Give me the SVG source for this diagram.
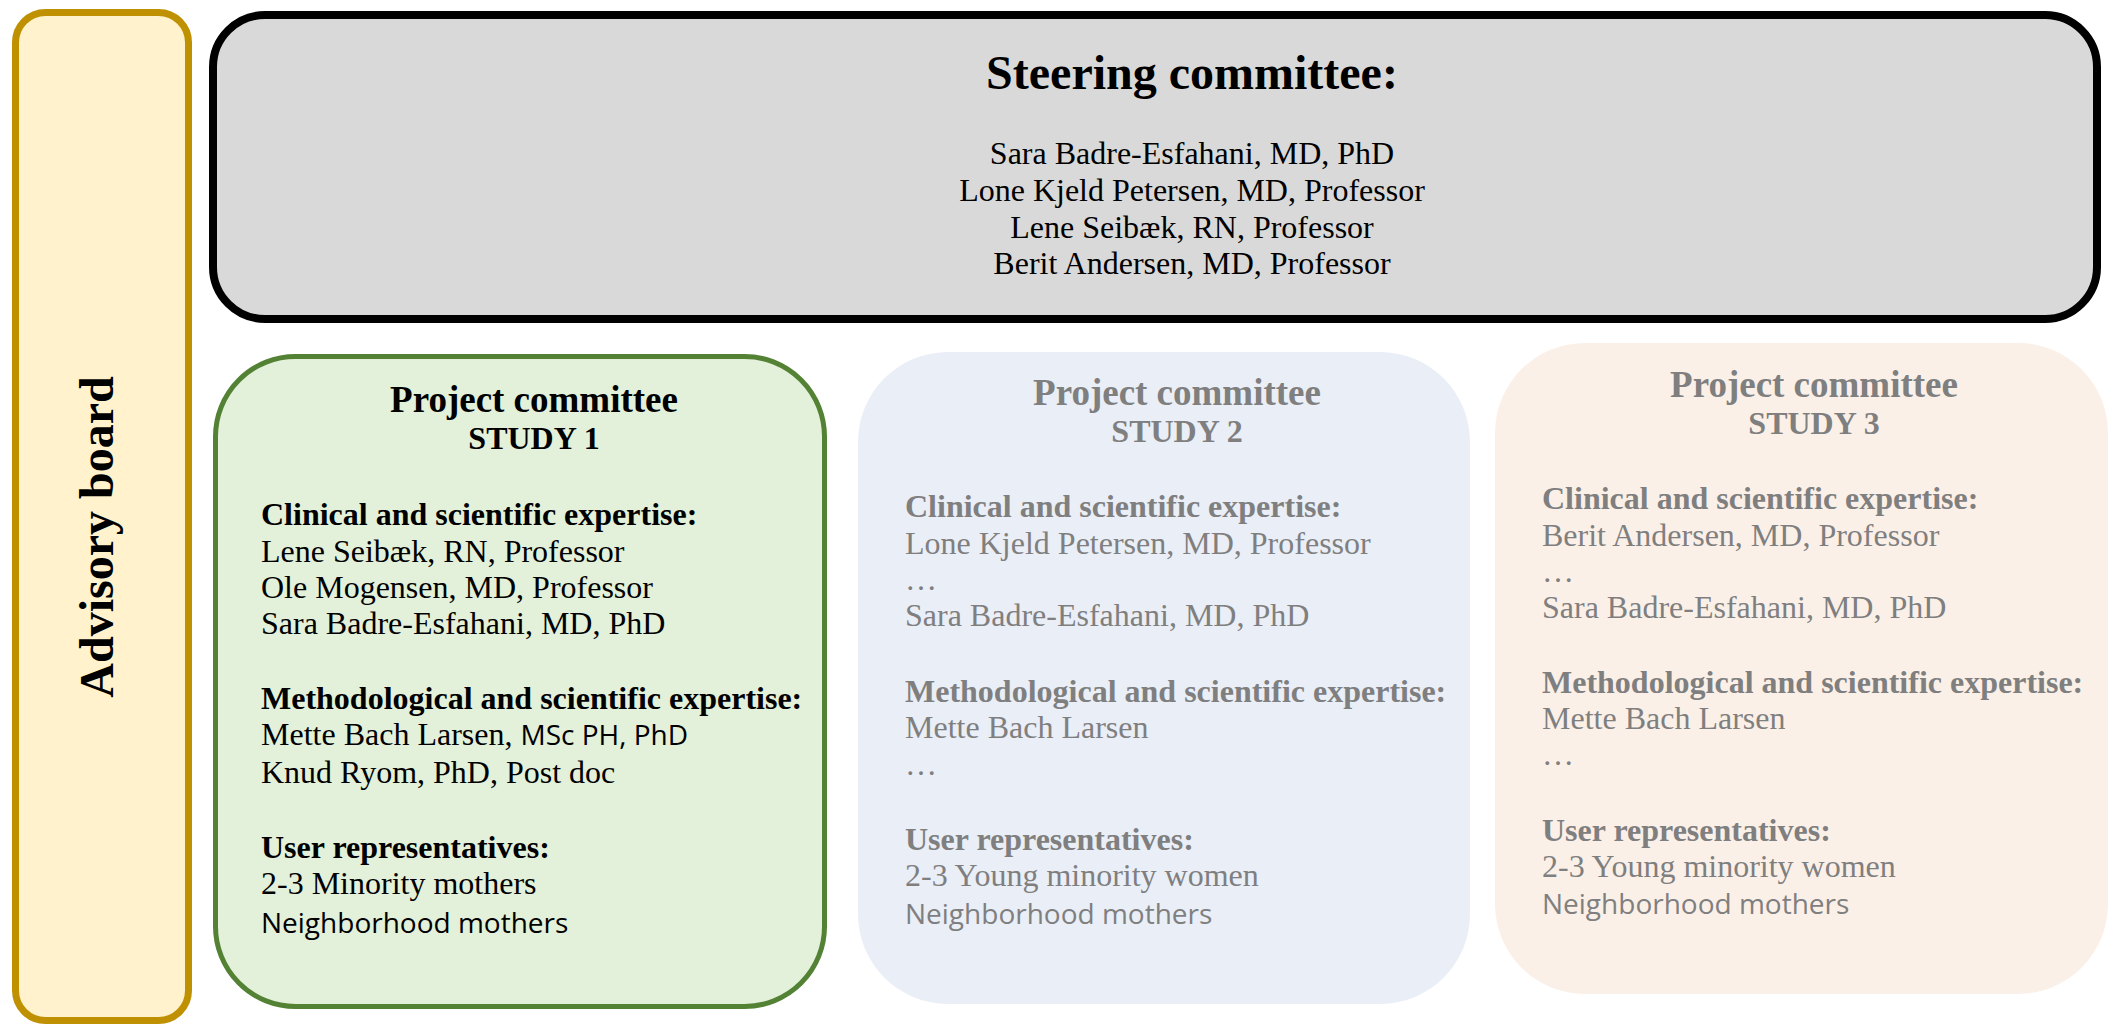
<svg xmlns="http://www.w3.org/2000/svg" width="2112" height="1026" viewBox="0 0 2112 1026">
<style>
.serif{font-family:"Liberation Serif","Times New Roman",serif;}
.sans{font-family:"Open Sans","Noto Sans","Liberation Sans",sans-serif;}
.b{font-weight:bold;}
.body{font-size:32px;}
.title{font-size:37px;font-weight:bold;text-anchor:middle;}
.sub{font-size:32px;font-weight:bold;text-anchor:middle;}
.dark{fill:#000;}
.grey{fill:#7f7f7f;}
.calibri{font-family:"Open Sans","Noto Sans","Liberation Sans",sans-serif;font-size:28px;}
</style>
<rect width="2112" height="1026" fill="#ffffff"/>
<g id="advisory-board">
  <rect x="15.5" y="12.5" width="173" height="1008" rx="30" ry="30" fill="#FFF2CC" stroke="#BF9000" stroke-width="7"/>
  <text class="serif b" font-size="48" text-anchor="middle" transform="translate(113,537) rotate(-90)">Advisory board</text>
</g>
<g id="steering-committee">
  <rect x="213" y="15" width="1884" height="304" rx="52" ry="52" fill="#D9D9D9" stroke="#000" stroke-width="8"/>
  <text class="serif b dark" font-size="48" x="1192" y="89" text-anchor="middle">Steering committee:</text>
  <g class="serif body dark" text-anchor="middle">
    <text x="1192" y="164">Sara Badre-Esfahani, MD, PhD</text>
    <text x="1192" y="201">Lone Kjeld Petersen, MD, Professor</text>
    <text x="1192" y="238">Lene Seibæk, RN, Professor</text>
    <text x="1192" y="274">Berit Andersen, MD, Professor</text>
  </g>
</g>
<g id="study-1">
  <rect x="215.5" y="356.5" width="609" height="650" rx="80" ry="80" fill="#E3F0DA" stroke="#548235" stroke-width="5"/>
  <text class="serif title dark" x="534" y="412">Project committee</text>
  <text class="serif sub dark" x="534" y="449">STUDY 1</text>
  <g class="serif body dark">
    <text class="b" x="261" y="525">Clinical and scientific expertise:</text>
    <text x="261" y="562">Lene Seibæk, RN, Professor</text>
    <text x="261" y="598">Ole Mogensen, MD, Professor</text>
    <text x="261" y="634">Sara Badre-Esfahani, MD, PhD</text>
    <text class="b" x="261" y="709">Methodological and scientific expertise:</text>
    <text x="261" y="745">Mette Bach Larsen, <tspan class="calibri">MSc PH, PhD</tspan></text>
    <text x="261" y="783">Knud Ryom, PhD, Post doc</text>
    <text class="b" x="261" y="858">User representatives:</text>
    <text x="261" y="894">2-3 Minority mothers</text>
  </g>
  <text class="calibri dark" x="261" y="933">Neighborhood mothers</text>
</g>
<g id="study-2">
  <rect x="858" y="352" width="612" height="652" rx="90" ry="90" fill="#EAEEF7"/>
  <text class="serif title grey" x="1177" y="405">Project committee</text>
  <text class="serif sub grey" x="1177" y="442">STUDY 2</text>
  <g class="serif body grey">
    <text class="b" x="905" y="517">Clinical and scientific expertise:</text>
    <text x="905" y="554">Lone Kjeld Petersen, MD, Professor</text>
    <text x="905" y="590">…</text>
    <text x="905" y="626">Sara Badre-Esfahani, MD, PhD</text>
    <text class="b" x="905" y="702">Methodological and scientific expertise:</text>
    <text x="905" y="738">Mette Bach Larsen</text>
    <text x="905" y="775">…</text>
    <text class="b" x="905" y="850">User representatives:</text>
    <text x="905" y="886">2-3 Young minority women</text>
  </g>
  <text class="calibri grey" x="905" y="924">Neighborhood mothers</text>
</g>
<g id="study-3">
  <rect x="1495" y="343" width="613" height="651" rx="90" ry="90" fill="#FBF0E8"/>
  <text class="serif title grey" x="1814" y="397">Project committee</text>
  <text class="serif sub grey" x="1814" y="434">STUDY 3</text>
  <g class="serif body grey">
    <text class="b" x="1542" y="509">Clinical and scientific expertise:</text>
    <text x="1542" y="546">Berit Andersen, MD, Professor</text>
    <text x="1542" y="582">…</text>
    <text x="1542" y="618">Sara Badre-Esfahani, MD, PhD</text>
    <text class="b" x="1542" y="693">Methodological and scientific expertise:</text>
    <text x="1542" y="729">Mette Bach Larsen</text>
    <text x="1542" y="765">…</text>
    <text class="b" x="1542" y="841">User representatives:</text>
    <text x="1542" y="877">2-3 Young minority women</text>
  </g>
  <text class="calibri grey" x="1542" y="914">Neighborhood mothers</text>
</g>
<g id="connectors"></g>
</svg>
